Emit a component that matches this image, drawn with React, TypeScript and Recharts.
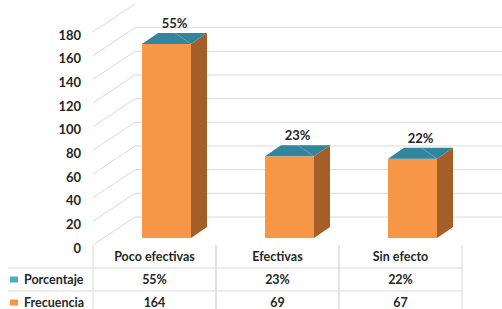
import React from 'react';
import { BarChart, Bar, XAxis, YAxis, CartesianGrid, LabelList } from 'recharts';

const categories = ['Poco efectivas', 'Efectivas', 'Sin efecto'];
const frecuencia = [164, 69, 67];
const porcentaje = ['55%', '23%', '22%'];
const yTicks = [0, 20, 40, 60, 80, 100, 120, 140, 160, 180];
const rowLabels = ['Porcentaje', 'Frecuencia'];

const data = categories.map((name, i) => ({
  name,
  frecuencia: frecuencia[i],
  porcentaje: porcentaje[i],
}));

const FONT = 'Lato, "Open Sans", sans-serif';
const TEXT = '#262626';
const FRONT = '#F79646';
const SIDE = '#A55E27';
const TOP = '#31859C';
const GRID = '#D9D9D9';
const TABLE = '#D9D9D9';

// 3D depth
const DEPTH_X = 42;
const DEPTH_Y = 28;
const BAR_OX = 12;
const BAR_OY = -7;
const BAR_DX = 16;
const BAR_DY = 11;

const Bar3D = (props: any) => {
  const { x, y, width, height } = props;
  const fx = x + BAR_OX;
  const fy = y + BAR_OY;
  const side = `${fx + width},${fy} ${fx + width + BAR_DX},${fy - BAR_DY} ${fx + width + BAR_DX},${fy + height - BAR_DY} ${fx + width},${fy + height}`;
  const top = `${fx},${fy} ${fx + BAR_DX},${fy - BAR_DY} ${fx + width + BAR_DX},${fy - BAR_DY} ${fx + width},${fy}`;
  return (
    <g>
      <rect x={fx} y={fy} width={width} height={height} fill={FRONT} />
      <polygon points={side} fill={SIDE} />
      <polygon points={top} fill={TOP} />
      <line x1={fx + width} y1={fy} x2={fx + width - BAR_DX} y2={fy - BAR_DY} stroke="#8fc3d1" strokeOpacity={0.5} strokeWidth={1} />
    </g>
  );
};

const PctLabel = (props: any) => {
  const { x, y, width, value } = props;
  return (
    <text
      x={x + BAR_OX + width / 2 + BAR_DX / 2}
      y={y + BAR_OY - BAR_DY - 10}
      textAnchor="middle"
      dominantBaseline="central"
      fontFamily={FONT}
      fontWeight={700}
      fontSize={13}
      fill={TEXT}
    >
      {value}
    </text>
  );
};

const gridLine = (props: any) => {
  const { x1, y1, x2, key } = props;
  const by = y1 - DEPTH_Y;
  return (
    <g key={key}>
      <line x1={x1} y1={y1} x2={x1 + DEPTH_X} y2={by} stroke={GRID} strokeWidth={1} />
      {by > 10 && (
        <line x1={x1 + DEPTH_X} y1={by} x2={x2 + DEPTH_X} y2={by} stroke={GRID} strokeWidth={1} />
      )}
    </g>
  );
};

const TableTick = (props: any) => {
  const { x, y, payload, index } = props;
  const half = payload && payload.offset && payload.offset > 1 ? payload.offset : 61.5;
  const i = categories.indexOf(payload.value);
  const rowH = 23;
  const left = x - half;
  const right = x + half;
  const textProps = {
    textAnchor: 'middle' as const,
    dominantBaseline: 'central' as const,
    fontFamily: FONT,
    fontWeight: 700,
    fontSize: 12.5,
    fill: TEXT,
  };
  return (
    <g>
      <line x1={left} y1={y} x2={left} y2={y + 70} stroke={TABLE} />
      <line x1={right} y1={y} x2={right} y2={y + 70} stroke={TABLE} />
      <line x1={index === 0 ? 8 : left} y1={y + rowH} x2={right} y2={y + rowH} stroke={TABLE} />
      <line x1={index === 0 ? 8 : left} y1={y + rowH * 2} x2={right} y2={y + rowH * 2} stroke={TABLE} />
      <text x={x} y={y + 11.5} {...textProps}>{payload.value}</text>
      <text x={x} y={y + rowH + 11.5} {...textProps}>{porcentaje[i]}</text>
      <text x={x} y={y + rowH * 2 + 11.5} {...textProps}>{frecuencia[i]}</text>
      {index === 0 && (
        <g>
          <rect x={10} y={y + rowH + 8.5} width={8} height={6} fill="#4BACC6" />
          <text x={24} y={y + rowH + 11.5} {...textProps} textAnchor="start">{rowLabels[0]}</text>
          <rect x={10} y={y + rowH * 2 + 8.5} width={8} height={6} fill={FRONT} />
          <text x={24} y={y + rowH * 2 + 11.5} {...textProps} textAnchor="start">{rowLabels[1]}</text>
        </g>
      )}
    </g>
  );
};

export default function App() {
  return (
    <div style={{ position: 'fixed', left: 0, top: 0, background: '#fff' }}>
      <BarChart
        width={502}
        height={309}
        data={data}
        margin={{ top: 32, right: 40, bottom: 0, left: 0 }}
      >
        <CartesianGrid vertical={false} horizontal={gridLine} />
        <YAxis
          width={93}
          domain={[0, 180]}
          ticks={yTicks}
          interval={0}
          axisLine={false}
          tickLine={false}
          tickSize={0}
          tickMargin={12}
          tick={{ fontFamily: FONT, fontWeight: 700, fontSize: 13, fill: TEXT, dy: 3 }}
        />
        <XAxis
          dataKey="name"
          height={64}
          interval={0}
          axisLine={false}
          tickLine={false}
          tickSize={0}
          tickMargin={0}
          tick={<TableTick />}
        />
        <Bar dataKey="frecuencia" barSize={49} shape={<Bar3D />} isAnimationActive={false}>
          <LabelList dataKey="porcentaje" content={<PctLabel />} />
        </Bar>
      </BarChart>
    </div>
  );
}
